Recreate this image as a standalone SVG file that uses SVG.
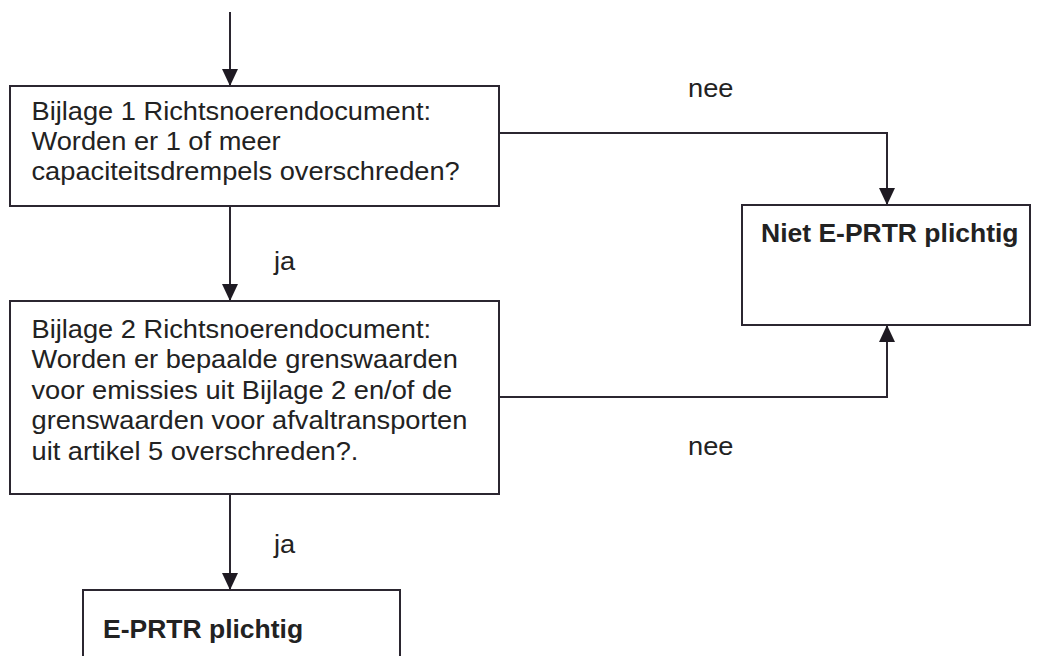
<svg xmlns="http://www.w3.org/2000/svg" width="1045" height="656" viewBox="0 0 1045 656">
  <style>
    .box { fill: #ffffff; stroke: #2b2630; stroke-width: 2; }
    .conn { fill: none; stroke: #2b2630; stroke-width: 2; }
    .t { font-family: "Liberation Sans", Arial, sans-serif; font-size: 25px; fill: #222222; }
    .b { font-weight: bold; }
  </style>
  <defs>
    <marker id="arrow" markerUnits="userSpaceOnUse" markerWidth="17" markerHeight="16" refX="17" refY="8" orient="auto" viewBox="0 0 17 16">
      <path d="M0,0 L17,8 L0,16 Z" fill="#1e1a22"/>
    </marker>
  </defs>
  <rect width="1045" height="656" fill="#ffffff"/>

  <g id="connectors">
    <path class="conn" d="M230,12 V86" marker-end="url(#arrow)"/>
    <path class="conn" d="M230,206 V301" marker-end="url(#arrow)"/>
    <path class="conn" d="M230,494 V590" marker-end="url(#arrow)"/>
    <path class="conn" d="M499,133 H887 V205" marker-end="url(#arrow)"/>
    <path class="conn" d="M499,397 H887 V325" marker-end="url(#arrow)"/>
    <text class="t" transform="translate(688,97) scale(1.09,1)">nee</text>
    <text class="t" transform="translate(688,455) scale(1.09,1)">nee</text>
    <text class="t" transform="translate(274,270) scale(1.09,1)">ja</text>
    <text class="t" transform="translate(274,553) scale(1.09,1)">ja</text>
  </g>

  <g id="node-bijlage1">
    <rect class="box" x="10" y="86" width="489" height="120"/>
    <text class="t" transform="translate(31.5,120) scale(1.09,1)">
      <tspan x="0" y="0">Bijlage 1 Richtsnoerendocument:</tspan>
      <tspan x="0" y="30">Worden er 1 of meer</tspan>
      <tspan x="0" y="60">capaciteitsdrempels overschreden?</tspan>
    </text>
  </g>

  <g id="node-bijlage2">
    <rect class="box" x="10" y="301" width="489" height="193"/>
    <text class="t" transform="translate(31.5,338) scale(1.09,1)">
      <tspan x="0" y="0">Bijlage 2 Richtsnoerendocument:</tspan>
      <tspan x="0" y="30.5">Worden er bepaalde grenswaarden</tspan>
      <tspan x="0" y="61">voor emissies uit Bijlage 2 en/of de</tspan>
      <tspan x="0" y="91.5">grenswaarden voor afvaltransporten</tspan>
      <tspan x="0" y="122">uit artikel 5 overschreden?.</tspan>
    </text>
  </g>

  <g id="node-niet-plichtig">
    <rect class="box" x="742" y="205" width="288" height="120"/>
    <text class="t b" transform="translate(761,241.5) scale(1.06,1)">Niet E-PRTR plichtig</text>
  </g>

  <g id="node-plichtig">
    <rect class="box" x="83" y="590" width="317" height="90"/>
    <text class="t b" transform="translate(103,638) scale(1.06,1)">E-PRTR plichtig</text>
  </g>
</svg>
